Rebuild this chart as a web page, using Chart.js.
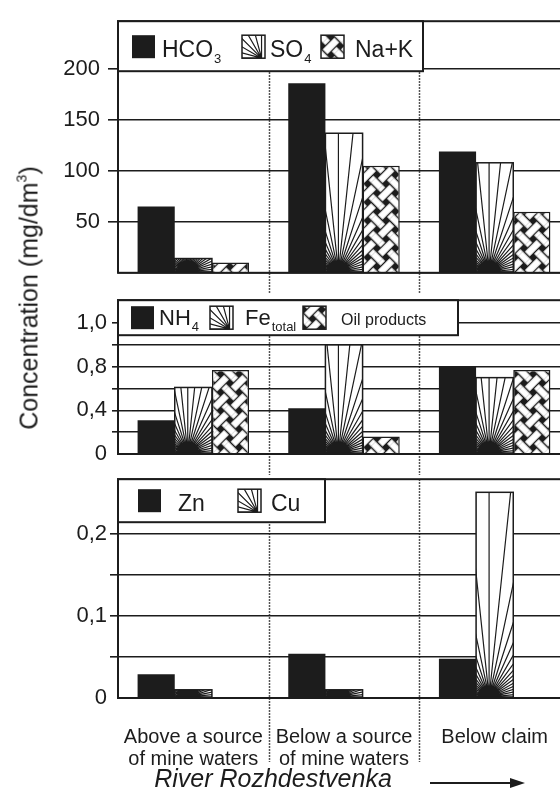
<!DOCTYPE html>
<html>
<head>
<meta charset="utf-8">
<script src="https://cdn.jsdelivr.net/npm/chart.js@4.4.0/dist/chart.umd.min.js"></script>
<style>
  html, body { margin: 0; padding: 0; background: #fff; overflow: hidden; }
  #page { position: relative; width: 560px; height: 796px; overflow: hidden;
          font-family: 'Liberation Sans', Arial, sans-serif; color: #1c1c1c; }
  .panel { position: absolute; left: 0; }
  #ytitle { position: absolute; left: 29px; top: 298px; white-space: nowrap; font-size: 25px;
            transform: translate(-50%, -50%) rotate(-90deg); }
  #ytitle sup { font-size: 14px; line-height: 0; vertical-align: 11px; }
  #river { position: absolute; left: 273px; top: 766px; font-size: 25px; line-height: 25px;
           font-style: italic; white-space: nowrap; transform: translateX(-50%); }
  #arrowLine { position: absolute; left: 430px; top: 782px; width: 82px; height: 2px; background: #1c1c1c; }
  #arrowHead { position: absolute; left: 510px; top: 778px; width: 0; height: 0;
               border-left: 15px solid #1c1c1c; border-top: 5px solid transparent; border-bottom: 5px solid transparent; }
</style>
</head>
<body>
<div id="page">
  <canvas id="panelTop" class="panel" width="572" height="294" style="top:0px"></canvas>
  <canvas id="panelMid" class="panel" width="572" height="193" style="top:282px"></canvas>
  <canvas id="panelLow" class="panel" width="572" height="333" style="top:463px"></canvas>
  <div id="ytitle">Concentration (mg/dm<sup>3</sup>)</div>
  <div id="river">River Rozhdestvenka</div>
  <div id="arrowLine"></div>
  <div id="arrowHead"></div>
</div>
<script>
// values
var categories = [['Above a source', 'of mine waters'], ['Below a source', 'of mine waters'], 'Below claim'];

var hco3 = [65, 186, 119];
var so4 = [14, 137, 108];
var naK = [10, 105, 60];

var nh4 = [0.31, 0.42, 0.80];
var feTotal = [0.61, 1.0, 0.70];
var oilProducts = [0.77, 0.16, 0.77];

var zn = [0.029, 0.054, 0.048];
var cu = [0.010, 0.010, 0.251];

// tick labels as printed on the figure
var topTicks = [50, 100, 150, 200];
var topLabels = ['50', '100', '150', '200'];
var midTicks = [0, 0.4, 0.8, 1.2];
var midLabels = ['0', '0,4', '0,8', '1,0'];
var lowTicks = [0, 0.1, 0.2];
var lowLabels = ['0', '0,1', '0,2'];

var INK = '#1c1c1c';
var FONT = "'Liberation Sans', Arial, sans-serif";

function makeWeave(ctx) {
  var p = 13, w = 8, size = p * 2;
  var c = document.createElement('canvas');
  c.width = size; c.height = size;
  var g = c.getContext('2d');
  g.fillStyle = INK;
  g.fillRect(0, 0, size, size);
  g.strokeStyle = INK;
  g.lineWidth = 1.3;
  var offs = [(p - w) / 2, p + (p - w) / 2];

  function hStrip(y0, x0, x1) {
    g.fillStyle = '#fff';
    g.fillRect(x0, y0, x1 - x0, w);
    g.beginPath();
    g.moveTo(x0, y0); g.lineTo(x1, y0);
    g.moveTo(x0, y0 + w); g.lineTo(x1, y0 + w);
    g.stroke();
  }
  function vStrip(x0, y0, y1) {
    g.fillStyle = '#fff';
    g.fillRect(x0, y0, w, y1 - y0);
    g.beginPath();
    g.moveTo(x0, y0); g.lineTo(x0, y1);
    g.moveTo(x0 + w, y0); g.lineTo(x0 + w, y1);
    g.stroke();
  }
  offs.forEach(function (y) { hStrip(y, 0, size); });
  offs.forEach(function (x) { vStrip(x, 0, size); });
  for (var i = 0; i < 2; i++) {
    for (var j = 0; j < 2; j++) {
      if ((i + j) % 2) hStrip(offs[i], offs[j] - 0.7, offs[j] + w + 0.7);
    }
  }
  var pat = ctx.createPattern(c, 'repeat');
  pat.setTransform(new DOMMatrix().rotateSelf(45));
  return pat;
}

function drawRays(ctx, left, top, right, bottom, fx, from, to, step) {
  ctx.save();
  ctx.beginPath();
  ctx.rect(left, top, right - left, bottom - top);
  ctx.clip();
  ctx.fillStyle = '#fff';
  ctx.fillRect(left, top, right - left, bottom - top);
  ctx.strokeStyle = INK;
  ctx.lineWidth = 1.2;
  ctx.beginPath();
  for (var a = from; a <= to + 0.01; a += step) {
    var r = a * Math.PI / 180;
    ctx.moveTo(fx, bottom);
    ctx.lineTo(fx + Math.cos(r) * 600, bottom - Math.sin(r) * 600);
  }
  ctx.stroke();
  ctx.restore();
}

function drawIcon(ctx, kind, x, y, s, weave) {
  if (kind === 'solid') {
    ctx.fillStyle = INK;
    ctx.fillRect(x, y, s, s);
    return;
  }
  if (kind === 'rays') {
    drawRays(ctx, x, y, x + s, y + s, x + s * 0.85, 90, 180, 15);
  } else {
    ctx.fillStyle = weave;
    ctx.fillRect(x, y, s, s);
  }
  ctx.strokeStyle = INK;
  ctx.lineWidth = 1.5;
  ctx.strokeRect(x, y, s, s);
}

var panelDecor = {
  id: 'panelDecor',
  beforeDatasetsDraw: function (chart, args, opts) {
    var x = chart.scales.x, area = chart.chartArea, ctx = chart.ctx;
    ctx.save();
    ctx.strokeStyle = INK;
    ctx.lineWidth = 1.5;
    ctx.setLineDash([1.5, 1.5]);
    for (var i = 0; i < categories.length - 1; i++) {
      var sx = Math.round((x.getPixelForValue(i) + x.getPixelForValue(i + 1)) / 2) + 0.5;
      ctx.beginPath();
      ctx.moveTo(sx, area.top);
      ctx.lineTo(sx, area.bottom + opts.sepExtend);
      ctx.stroke();
    }
    ctx.restore();
  },
  afterDatasetsDraw: function (chart, args, opts) {
    var ctx = chart.ctx, area = chart.chartArea;

    // fan hatching on the bars
    chart.data.datasets.forEach(function (ds, di) {
      if (ds.hatch !== 'rays') return;
      chart.getDatasetMeta(di).data.forEach(function (bar) {
        var p = bar.getProps(['x', 'y', 'base', 'width'], true);
        if (p.y == null || isNaN(p.y)) return;
        var l = p.x - p.width / 2, r = p.x + p.width / 2;
        drawRays(ctx, l, p.y, r, p.base, l + p.width * 0.35, 0, 180, 6);
        ctx.strokeStyle = INK;
        ctx.lineWidth = 1.5;
        ctx.strokeRect(l, p.y, p.width, p.base - p.y);
      });
    });

    // frame
    ctx.save();
    ctx.strokeStyle = INK;
    ctx.lineWidth = 2;
    ctx.strokeRect(area.left, area.top, area.right - area.left + 10, area.bottom - area.top);
    ctx.restore();

    // legend box inside the frame
    var lg = opts.legend;
    ctx.save();
    ctx.fillStyle = '#fff';
    ctx.fillRect(area.left, area.top, lg.w, lg.h);
    ctx.strokeStyle = INK;
    ctx.lineWidth = 2;
    ctx.strokeRect(area.left, area.top, lg.w, lg.h);
    lg.items.forEach(function (it) {
      drawIcon(ctx, it.kind, area.left + it.ix, area.top + lg.iconY, lg.iconSize, opts.weave);
      ctx.fillStyle = INK;
      ctx.textBaseline = 'alphabetic';
      ctx.textAlign = 'left';
      var size = it.size || lg.fontSize;
      ctx.font = size + 'px ' + FONT;
      var tx = area.left + it.tx, ty = area.top + lg.baseline;
      ctx.fillText(it.main, tx, ty);
      if (it.sub) {
        var wMain = ctx.measureText(it.main).width;
        ctx.font = '13px ' + FONT;
        ctx.fillText(it.sub, tx + wMain + 1, ty + 6);
      }
    });
    ctx.restore();
  }
};

function labelFrom(ticks, labels) {
  return function (value) {
    for (var i = 0; i < ticks.length; i++) {
      if (Math.abs(ticks[i] - value) < 1e-6) return labels[i];
    }
    return '';
  };
}

function yAxis(min, max, step, gridTop, ticks, labels, tickLen, pad) {
  return {
    min: min, max: max,
    border: { display: false },
    grid: {
      lineWidth: 1.6,
      tickLength: tickLen,
      color: function (c) { return c.tick.value > gridTop + 1e-6 ? 'rgba(0,0,0,0)' : INK; },
      tickColor: function (c) {
        var v = c.tick.value;
        return (v > gridTop + 1e-6 || Math.abs(v) < 1e-9) ? 'rgba(0,0,0,0)' : INK;
      }
    },
    ticks: {
      stepSize: step, autoSkip: false, padding: pad, color: INK,
      font: { family: FONT, size: 22 },
      callback: labelFrom(ticks, labels)
    },
    afterFit: function (s) { s.width = 118; }
  };
}

function hiddenX(h) {
  return {
    grid: { display: false }, border: { display: false },
    ticks: { display: false },
    afterFit: function (s) { s.height = h; }
  };
}

function barSet(label, data, kind, weave) {
  return {
    label: label, data: data, hatch: kind,
    backgroundColor: kind === 'solid' ? INK : (kind === 'weave' ? weave : '#fff'),
    borderColor: INK,
    borderWidth: kind === 'solid' ? 0 : 1.5,
    categoryPercentage: 0.74, barPercentage: 1
  };
}

function makePanel(id, datasets, yScale, xScale, legend, sepExtend, weave) {
  return new Chart(document.getElementById(id), {
    type: 'bar',
    data: { labels: categories, datasets: datasets },
    options: {
      responsive: false, animation: false, devicePixelRatio: 1,
      layout: { padding: { top: 12, left: 0, right: 2, bottom: 0 } },
      scales: { x: xScale, y: yScale },
      plugins: {
        legend: { display: false }, tooltip: { enabled: false },
        panelDecor: { legend: legend, sepExtend: sepExtend, weave: weave }
      }
    },
    plugins: [panelDecor]
  });
}

var weaveTop = makeWeave(document.getElementById('panelTop').getContext('2d'));
var weaveMid = makeWeave(document.getElementById('panelMid').getContext('2d'));
var weaveLow = makeWeave(document.getElementById('panelLow').getContext('2d'));

makePanel('panelTop', [
  barSet('HCO3', hco3, 'solid'),
  barSet('SO4', so4, 'rays'),
  barSet('Na+K', naK, 'weave', weaveTop)
], yAxis(0, 247, 50, 200, topTicks, topLabels, 10, 8), hiddenX(21), {
  w: 305, h: 50, iconY: 14, iconSize: 23, baseline: 36, fontSize: 23,
  items: [
    { kind: 'solid', ix: 14, tx: 44, main: 'HCO', sub: '3' },
    { kind: 'rays', ix: 124, tx: 152, main: 'SO', sub: '4' },
    { kind: 'weave', ix: 203, tx: 237, main: 'Na+K' }
  ]
}, 21, weaveTop);

makePanel('panelMid', [
  barSet('NH4', nh4, 'solid'),
  barSet('Fe total', feTotal, 'rays'),
  barSet('Oil products', oilProducts, 'weave', weaveMid)
], yAxis(0, 1.41, 0.2, 1.2, midTicks, midLabels, 6, 5), hiddenX(21), {
  w: 340, h: 35, iconY: 6, iconSize: 23, baseline: 25, fontSize: 22,
  items: [
    { kind: 'solid', ix: 13, tx: 41, main: 'NH', sub: '4' },
    { kind: 'rays', ix: 92, tx: 127, main: 'Fe', sub: 'total' },
    { kind: 'weave', ix: 185, tx: 223, main: 'Oil products', size: 16 }
  ]
}, 21, weaveMid);

makePanel('panelLow', [
  barSet('Zn', zn, 'solid'),
  barSet('Cu', cu, 'rays'),
  { label: '', data: [null, null, null], categoryPercentage: 0.74, barPercentage: 1 }
], yAxis(0, 0.267, 0.05, 0.25, lowTicks, lowLabels, 8, 3), {
  grid: { display: false }, border: { display: false },
  ticks: { autoSkip: false, maxRotation: 0, padding: 20, color: INK,
           font: { family: FONT, size: 20, lineHeight: 1.1 } },
  afterFit: function (s) { s.height = 98; }
}, {
  w: 207, h: 43, iconY: 10, iconSize: 23, baseline: 32, fontSize: 23,
  items: [
    { kind: 'solid', ix: 20, tx: 60, main: 'Zn' },
    { kind: 'rays', ix: 120, tx: 153, main: 'Cu' }
  ]
}, 64, weaveLow);
</script>
</body>
</html>
